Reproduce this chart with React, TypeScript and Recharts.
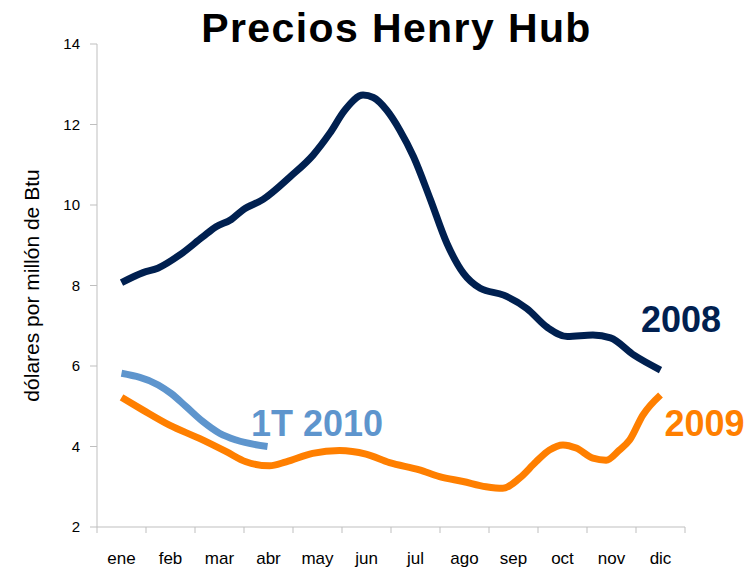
import React from 'react';
import { LineChart, Line, XAxis, YAxis, ReferenceDot } from 'recharts';

// Month categories (x positions 0..11)
const months = ['ene', 'feb', 'mar', 'abr', 'may', 'jun', 'jul', 'ago', 'sep', 'oct', 'nov', 'dic'];

// Series: m = position along month axis, v = price (USD / MMBtu)
const series2008 = [
  { m: 0, v: 8.07 }, { m: 0.44, v: 8.32 }, { m: 0.74, v: 8.43 }, { m: 1.19, v: 8.76 },
  { m: 1.66, v: 9.21 }, { m: 1.93, v: 9.46 }, { m: 2.24, v: 9.64 }, { m: 2.48, v: 9.88 },
  { m: 2.89, v: 10.14 }, { m: 3.44, v: 10.7 }, { m: 3.91, v: 11.24 }, { m: 4.25, v: 11.78 },
  { m: 4.56, v: 12.36 }, { m: 4.93, v: 12.73 }, { m: 5.14, v: 12.67 }, { m: 5.41, v: 12.36 },
  { m: 5.68, v: 11.86 }, { m: 5.96, v: 11.2 }, { m: 6.3, v: 10.15 }, { m: 6.64, v: 9.05 },
  { m: 6.98, v: 8.3 }, { m: 7.32, v: 7.93 }, { m: 7.8, v: 7.76 }, { m: 8.27, v: 7.43 },
  { m: 8.7, v: 6.95 }, { m: 9.1, v: 6.73 }, { m: 9.62, v: 6.77 }, { m: 9.98, v: 6.7 },
  { m: 10.46, v: 6.27 }, { m: 11, v: 5.9 },
];

const series2009 = [
  { m: 0, v: 5.22 }, { m: 0.43, v: 4.91 }, { m: 0.98, v: 4.53 }, { m: 1.59, v: 4.2 },
  { m: 2.14, v: 3.87 }, { m: 2.54, v: 3.62 }, { m: 3.02, v: 3.52 }, { m: 3.36, v: 3.62 },
  { m: 3.9, v: 3.83 }, { m: 4.45, v: 3.9 }, { m: 4.99, v: 3.81 }, { m: 5.47, v: 3.6 },
  { m: 6.08, v: 3.42 }, { m: 6.49, v: 3.25 }, { m: 6.97, v: 3.13 }, { m: 7.44, v: 3.0 },
  { m: 7.78, v: 2.96 }, { m: 8.12, v: 3.21 }, { m: 8.46, v: 3.62 }, { m: 8.73, v: 3.91 },
  { m: 9.01, v: 4.04 }, { m: 9.28, v: 3.96 }, { m: 9.62, v: 3.71 }, { m: 9.89, v: 3.66 },
  { m: 10.16, v: 3.91 }, { m: 10.37, v: 4.16 }, { m: 10.64, v: 4.78 }, { m: 11, v: 5.28 },
];

const series2010 = [
  { m: 0, v: 5.82 }, { m: 0.75, v: 5.53 }, { m: 1.01, v: 5.32 }, { m: 1.32, v: 4.99 },
  { m: 1.66, v: 4.62 }, { m: 2.0, v: 4.33 }, { m: 2.34, v: 4.16 }, { m: 2.98, v: 4.0 },
];

const yTicks = [2, 4, 6, 8, 10, 12, 14];
const xTicks = [-0.5, 0, 0.5, 1, 1.5, 2, 2.5, 3, 3.5, 4, 4.5, 5, 5.5, 6, 6.5, 7, 7.5, 8, 8.5, 9, 9.5, 10, 10.5, 11, 11.5];

// Series name labels (anchored in data coordinates)
const seriesLabels = [
  { text: '2008', m: 11.42, v: 7.16, color: '#002050' },
  { text: '2009', m: 11.9, v: 4.57, color: '#ff7f00' },
  { text: '1T 2010', m: 3.99, v: 4.57, color: '#5e95cd' },
];

const FONT = '"Liberation Sans", Arial, sans-serif';
const AXIS_GRAY = '#bfbfbf';

const MonthTick = (props: any) => {
  const { x, y, payload } = props;
  const val = payload.value as number;
  if (Math.abs(val - Math.round(val)) > 0.01) {
    return <line x1={x} x2={x} y1={y - 6} y2={y} stroke={AXIS_GRAY} strokeWidth={1} />;
  }
  return (
    <text x={x} y={y + 31} textAnchor="middle" fontSize={17} fill="#000" fontFamily={FONT}>
      {months[Math.round(val)]}
    </text>
  );
};

export default function App() {
  return (
    <div style={{ position: 'absolute', left: 0, top: 0, width: 751, height: 568, background: '#fff', fontFamily: FONT }}>
      <div
        style={{
          position: 'absolute',
          left: 0,
          top: 8,
          width: 793,
          textAlign: 'center',
          fontSize: 41,
          lineHeight: '40px',
          fontWeight: 'bold',
          letterSpacing: '1.4px',
          color: '#000',
          fontFamily: FONT,
        }}
      >
        Precios Henry Hub
      </div>
      <LineChart width={751} height={568} margin={{ top: 44, right: 66, bottom: 0, left: 0 }}>
        <XAxis
          type="number"
          dataKey="m"
          domain={[-0.5, 11.5]}
          ticks={xTicks}
          interval={0}
          tickLine={false}
          tickSize={6}
          tickMargin={0}
          tick={<MonthTick />}
          height={41}
          stroke={AXIS_GRAY}
          allowDataOverflow
        />
        <YAxis
          type="number"
          domain={[2, 14]}
          ticks={yTicks}
          interval={0}
          width={97}
          tickSize={7}
          tickMargin={10}
          stroke={AXIS_GRAY}
          tick={{ fill: '#000', fontSize: 15, fontFamily: FONT }}
          label={{
            value: 'dólares por millón de Btu',
            angle: -90,
            position: 'insideLeft',
            offset: 32,
            style: { textAnchor: 'middle', fontSize: 21, fill: '#000', fontFamily: FONT },
          }}
        />
        <Line data={series2008} dataKey="v" type="monotone" stroke="#002050" strokeWidth={7} dot={false} isAnimationActive={false} />
        <Line data={series2009} dataKey="v" type="monotone" stroke="#ff7f00" strokeWidth={7} dot={false} isAnimationActive={false} />
        <Line data={series2010} dataKey="v" type="monotone" stroke="#5e95cd" strokeWidth={7} dot={false} isAnimationActive={false} />
        {seriesLabels.map((l) => (
          <ReferenceDot
            key={l.text}
            x={l.m}
            y={l.v}
            r={0}
            fill="none"
            stroke="none"
            ifOverflow="visible"
            label={{ value: l.text, position: 'center', fill: l.color, fontSize: 36, fontWeight: 'bold', fontFamily: FONT }}
          />
        ))}
      </LineChart>
    </div>
  );
}
